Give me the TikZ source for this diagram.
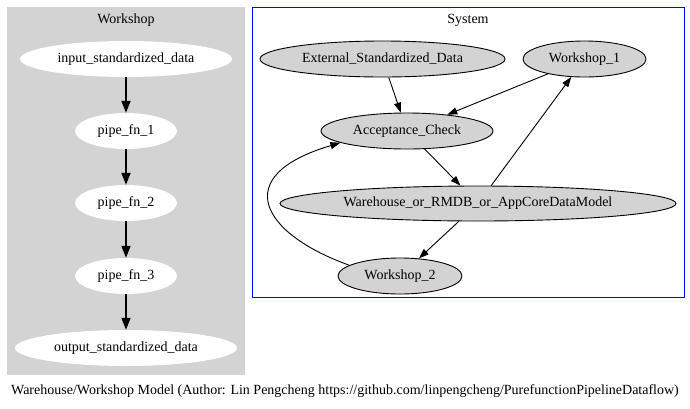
\documentclass[tikz,border=0pt]{standalone}
\usepackage{fontspec}
\setmainfont{Liberation Serif}
\usetikzlibrary{shapes.geometric,arrows.meta}
\definecolor{lgray}{HTML}{D3D3D3}
\begin{document}
\begin{tikzpicture}[x=1pt,y=-1pt,
  every node/.style={font=\fontsize{14}{16}\selectfont, inner sep=0pt},
  wnode/.style={ellipse, fill=white, minimum height=36pt},
  snode/.style={ellipse, fill=lgray, draw=black, line width=0.9pt, minimum height=36pt},
  wedge/.style={line width=1.8pt, -{Triangle[length=12pt,width=9pt]}},
  sedge/.style={line width=0.9pt, -{Triangle[length=10pt,width=7pt]}}]
\useasboundingbox (0,0) rectangle (690,408);
% clusters
\fill[lgray] (7,7) rectangle (245,375);
\draw[blue, line width=0.9pt] (252,7) rectangle (684,297);
\node (wtitle) at (126,20) {Workshop};
\node (stitle) at (468,20) {System};
% workshop nodes
\node[wnode, minimum width=212pt] (in) at (126,59) {input\_standardized\_data};
\node[wnode, minimum width=102pt] (p1) at (126,131) {pipe\_fn\_1};
\node[wnode, minimum width=102pt] (p2) at (126,203) {pipe\_fn\_2};
\node[wnode, minimum width=102pt] (p3) at (126,276) {pipe\_fn\_3};
\node[wnode, minimum width=222pt] (out) at (126,348) {output\_standardized\_data};
\draw[wedge] (in) -- (p1);
\draw[wedge] (p1) -- (p2);
\draw[wedge] (p2) -- (p3);
\draw[wedge] (p3) -- (out);
% system nodes
\node[snode, minimum width=245pt] (ext) at (382.5,59) {External\_Standardized\_Data};
\node[snode, minimum width=123pt] (w1) at (584.5,59) {Workshop\_1};
\node[snode, minimum width=172pt] (acc) at (407,131) {Acceptance\_Check};
\node[snode, minimum width=396pt, minimum height=35pt] (wh) at (478,203.5) {Warehouse\_or\_RMDB\_or\_AppCoreDataModel};
\node[snode, minimum width=124pt] (w2) at (400,276) {Workshop\_2};
\draw[sedge] (ext) -- (acc);
\draw[sedge] (w1) -- (acc);
\draw[sedge] (acc) -- (wh);
\draw[sedge] (wh) -- (w1);
\draw[sedge] (wh) -- (w2);
\draw[sedge] (w2.168) .. controls (262,234) and (228,176) .. (acc.190);
% caption
\node (cap) at (345,391) {Warehouse/Workshop Model (Author: Lin Pengcheng https://github.com/linpengcheng/PurefunctionPipelineDataflow)};
\end{tikzpicture}
\end{document}
